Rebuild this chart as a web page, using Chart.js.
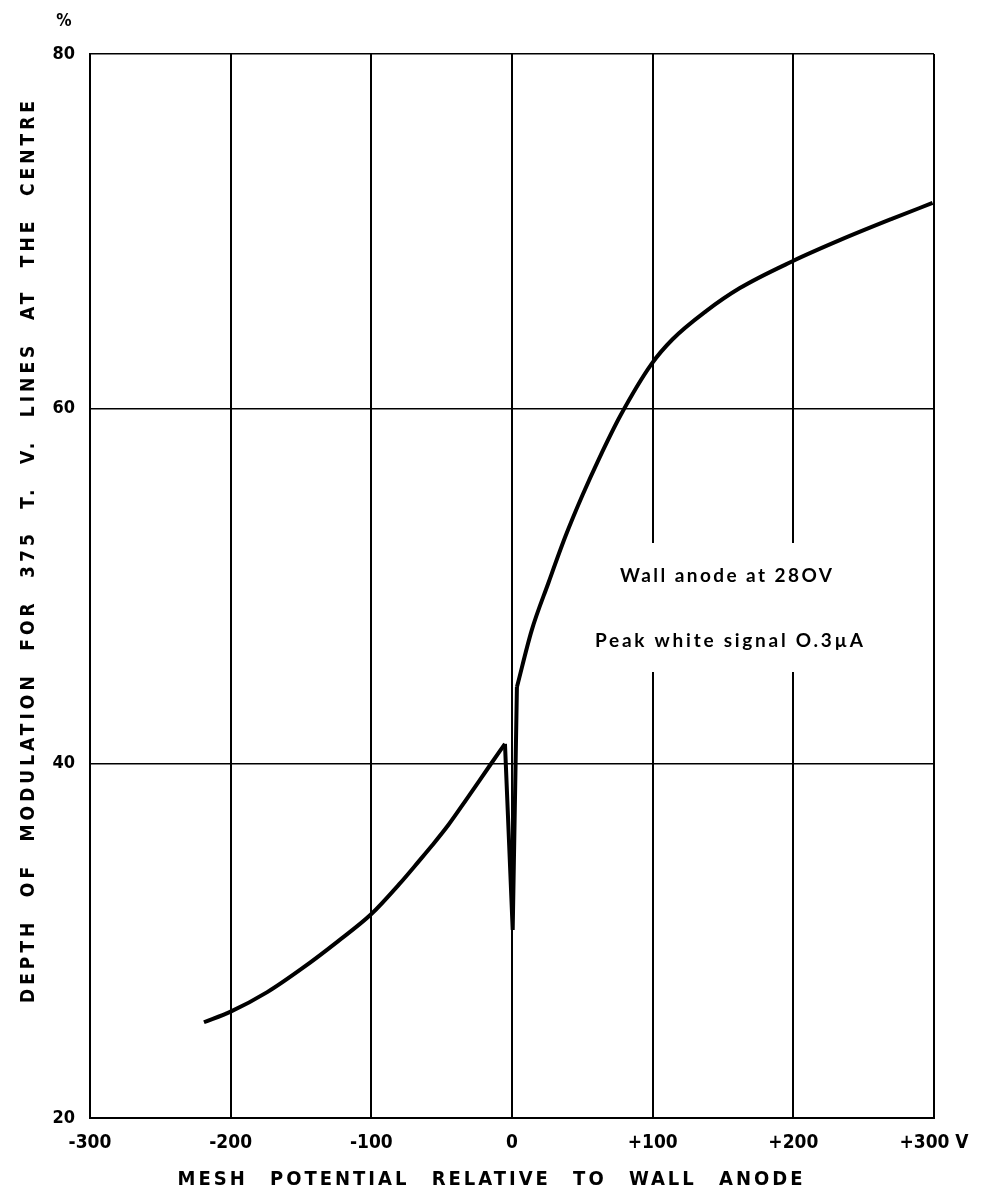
<!DOCTYPE html>
<html>
<head>
<meta charset="utf-8">
<script src="https://cdn.jsdelivr.net/npm/chart.js@4"></script>
<style>
  html, body { margin: 0; padding: 0; background: #fff; }
  canvas { display: block; }
</style>
</head>
<body>
<canvas id="grafico" width="984" height="1193"></canvas>
<script>
// mesh potential (V) and depth of modulation (%)
const potencial = [-219, -200, -174, -149, -124, -100, -80, -66, -57, -45, -33, -16, -5, 0.5, 3.5, 14, 26, 38, 50, 62, 77, 99, 114, 138, 162, 199, 233, 270, 299];
const modulacao = [25.4, 26.0, 27.1, 28.45, 29.95, 31.5, 33.2, 34.5, 35.35, 36.55, 37.9, 39.85, 41.1, 30.6, 44.3, 47.5, 50.2, 52.8, 55.1, 57.2, 59.6, 62.5, 63.9, 65.5, 66.8, 68.3, 69.5, 70.7, 71.6];
const iPico = 12;   // sharp peak before the dip
const iJoelho = 14; // kink after the dip

const xTicks = [-300, -200, -100, 0, 100, 200, 300];
const xTickLabels = ["-300", "-200", "-100", "0", "+100", "+200", "+300 V"];
const yTicks = [20, 40, 60, 80];

const notas = ["Wall anode at 28OV", "Peak white signal O.3\u00b5A"];

const FONTE = "'DejaVu Sans Condensed', 'DejaVu Sans', sans-serif";

// draws words with a fixed letter spacing and spreads the rest between words
function palavras(c, txt, cx, cy, alvo, ls) {
  const ws = txt.split(" ");
  c.letterSpacing = ls + "px";
  const larg = ws.map(w => c.measureText(w).width - ls);
  const soma = larg.reduce((a, b) => a + b, 0);
  const gap = (alvo - soma) / (ws.length - 1);
  let pos = cx - alvo / 2;
  c.textAlign = "left";
  ws.forEach((w, i) => {
    c.fillText(w, pos, cy);
    pos += larg[i] + gap;
  });
}

// even letter spacing so the line is alvo px wide
function esticado(c, txt, cx, cy, alvo) {
  c.letterSpacing = "0px";
  const w = c.measureText(txt).width;
  c.letterSpacing = ((alvo - w) / (txt.length - 1)) + "px";
  c.textAlign = "left";
  c.fillText(txt, cx - alvo / 2, cy);
}

function serie(a, b, suave) {
  return {
    data: potencial.slice(a, b + 1).map((v, i) => ({ x: v, y: modulacao[a + i] })),
    borderColor: "#000",
    borderWidth: 4,
    pointRadius: 0,
    tension: suave ? 0.4 : 0,
    cubicInterpolationMode: suave ? "monotone" : "default",
    borderJoinStyle: "miter",
    fill: false
  };
}

const textos = {
  id: "textos",
  beforeDatasetsDraw(chart) {
    const c = chart.ctx;
    const x = chart.scales.x;
    c.save();
    // white patch behind the notes, hides the grid lines
    c.fillStyle = "#fff";
    c.fillRect(x.getPixelForValue(60), 543, x.getPixelForValue(260) - x.getPixelForValue(60), 129);
    c.fillStyle = "#000";
    c.textBaseline = "middle";
    c.font = "bold 19px Lato, 'Open Sans', sans-serif";
    esticado(c, notas[0], 726, 576, 212);
    esticado(c, notas[1], 729, 641, 268);
    c.restore();
  },
  afterDraw(chart) {
    const c = chart.ctx;
    c.save();
    c.fillStyle = "#000";
    c.textAlign = "center";
    c.textBaseline = "middle";
    c.font = "bold 17px " + FONTE;
    c.fillText("%", 64, 22);
    // x title
    c.font = "bold 20px " + FONTE;
    palavras(c, "MESH POTENTIAL RELATIVE TO WALL ANODE", 490, 1180, 625, 3);
    // y title
    c.font = "bold 19px " + FONTE;
    c.translate(29, 552);
    c.rotate(-Math.PI / 2);
    palavras(c, "DEPTH OF MODULATION FOR 375 T. V. LINES AT THE CENTRE", 0, 0, 902, 4);
    c.restore();
  }
};

new Chart(document.getElementById("grafico"), {
  type: "line",
  data: {
    datasets: [
      serie(0, iPico, true),
      serie(iPico, iJoelho, false),
      serie(iJoelho, potencial.length - 1, true)
    ]
  },
  options: {
    responsive: false,
    animation: false,
    devicePixelRatio: 1,
    layout: { padding: { top: 54, right: 50, left: 0, bottom: 0 } },
    plugins: { legend: { display: false }, tooltip: { enabled: false } },
    scales: {
      x: {
        type: "linear",
        min: -300,
        max: 300,
        afterBuildTicks: s => { s.ticks = xTicks.map(v => ({ value: v })); },
        afterFit: s => { s.height = 75; },
        ticks: {
          color: "#000",
          padding: 14,
          maxRotation: 0,
          autoSkip: false,
          font: { family: FONTE, size: 19, weight: "bold" },
          callback: v => xTickLabels[xTicks.indexOf(v)]
        },
        grid: { color: "#000", lineWidth: 2, drawTicks: false },
        border: { color: "#000", width: 2 }
      },
      y: {
        min: 20,
        max: 80,
        afterBuildTicks: s => { s.ticks = yTicks.map(v => ({ value: v })); },
        afterFit: s => { s.width = 90; },
        ticks: {
          color: "#000",
          padding: 15,
          autoSkip: false,
          font: { family: FONTE, size: 18, weight: "bold" }
        },
        grid: { color: "#000", lineWidth: 1.5, drawTicks: false },
        border: { color: "#000", width: 2 }
      }
    }
  },
  plugins: [textos]
});
</script>
</body>
</html>
